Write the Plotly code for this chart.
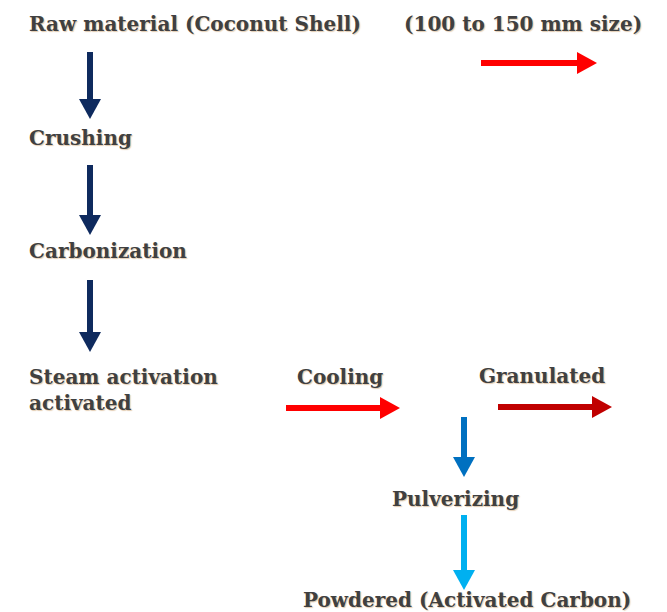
import plotly.graph_objects as go

# Flowchart content
step_labels = [
    "Raw material (Coconut Shell)",
    "(100 to 150 mm size)",
    "Crushing",
    "Carbonization",
    "Steam activation<br>activated",
    "Cooling",
    "Granulated",
    "Pulverizing",
    "Powdered (Activated Carbon)",
]

# Layout (pixel positions, left edge x, vertical centre y)
label_x = [27, 402, 27, 27, 27, 295, 477, 390, 301]
label_y = [24, 24, 138, 251, 390, 377, 376, 499, 600]

# Arrows: (x0, y0, x1, y1, colour)
arrow_x0 = [90, 90, 90, 481, 286, 498, 464, 464]
arrow_y0 = [52, 165, 280, 63, 408, 407, 417, 515]
arrow_x1 = [90, 90, 90, 597, 400, 612, 464, 464]
arrow_y1 = [119, 235, 352, 63, 408, 407, 477, 590]
arrow_col = ["#0e2a5e", "#0e2a5e", "#0e2a5e", "#ff0000", "#ff0000", "#c00000", "#0070c0", "#00b0f0"]

W, H = 667, 612
fig = go.Figure()
fig.add_trace(go.Scatter(x=[0, W], y=[0, H], mode="markers", marker=dict(opacity=0), hoverinfo="skip", showlegend=False))

shapes = []
HEAD_L = 20
HEAD_W = 11
SHAFT = 6
for x0, y0, x1, y1, c in zip(arrow_x0, arrow_y0, arrow_x1, arrow_y1, arrow_col):
    if x0 == x1:  # vertical, pointing down
        hb = y1 - HEAD_L
        shapes.append(dict(type="line", x0=x0, y0=y0, x1=x1, y1=hb + 1, line=dict(color=c, width=SHAFT), xref="x", yref="y"))
        path = f"M {x1-HEAD_W},{hb} L {x1+HEAD_W},{hb} L {x1},{y1} Z"
    else:  # horizontal, pointing right
        hb = x1 - HEAD_L
        shapes.append(dict(type="line", x0=x0, y0=y0, x1=hb + 1, y1=y1, line=dict(color=c, width=SHAFT), xref="x", yref="y"))
        path = f"M {hb},{y1-HEAD_W} L {hb},{y1+HEAD_W} L {x1},{y1} Z"
    shapes.append(dict(type="path", path=path, fillcolor=c, line=dict(color=c, width=0), xref="x", yref="y"))

annotations = []
for t, x, y in zip(step_labels, label_x, label_y):
    annotations.append(dict(
        text=f"<b>{t}</b>", x=x, y=y, xref="x", yref="y", xanchor="left", yanchor="middle",
        align="left", showarrow=False,
        font=dict(family="DejaVu Serif", size=20, color="#404040",
                  shadow="1px 1px 1px rgba(190,140,80,0.45)"),
    ))

fig.update_layout(
    width=W, height=H, margin=dict(l=0, r=0, t=0, b=0),
    paper_bgcolor="white", plot_bgcolor="white",
    xaxis=dict(range=[0, W], visible=False, fixedrange=True),
    yaxis=dict(range=[H, 0], visible=False, fixedrange=True),
    shapes=shapes, annotations=annotations, showlegend=False,
)
fig.write_html("out.html", config={"displayModeBar": False},
               post_script="document.body.style.margin='0';document.body.style.overflow='hidden';")
